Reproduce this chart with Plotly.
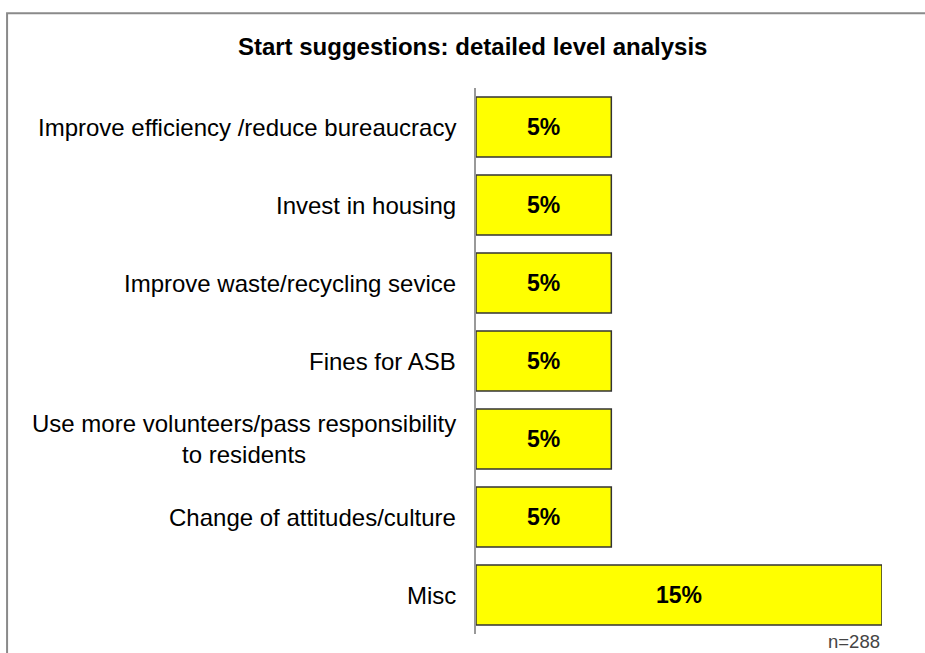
import plotly.graph_objects as go

categories = [
    "Improve efficiency /reduce bureaucracy",
    "Invest in housing",
    "Improve waste/recycling sevice",
    "Fines for ASB",
    "Use more volunteers/pass responsibility<br>to residents",
    "Change of attitudes/culture",
    "Misc",
]
values = [5, 5, 5, 5, 5, 5, 15]
value_labels = ["5%", "5%", "5%", "5%", "5%", "5%", "15%"]
title = "Start suggestions: detailed level analysis"
base_note = "n=288"

font = "Liberation Sans, Arial, sans-serif"

fig = go.Figure(go.Bar(
    x=values,
    y=categories,
    orientation="h",
    marker=dict(color="#ffff00", line=dict(color="#333333", width=1.5)),
    text=value_labels,
    textposition="inside",
    insidetextanchor="middle",
    textfont=dict(family=font, size=23, color="black", weight="bold"),
    width=0.77,
    hoverinfo="skip",
))

# category labels as centred multi-line annotations to the left of the axis
for cat in categories:
    fig.add_annotation(
        x=0, y=cat, xref="x", yref="y", text=cat, showarrow=False,
        xanchor="right", align="center", xshift=-18,
        font=dict(family=font, size=24, color="black"),
    )

fig.add_annotation(
    x=15, y=0, xref="x", yref="paper", text=base_note, showarrow=False,
    xanchor="right", yanchor="middle", yshift=-7,
    font=dict(family=font, size=18.5, color="#444444"),
)

# outer frame (runs off the right and bottom edges)
fig.add_shape(type="rect", xref="paper", yref="paper",
              x0=-1.155, x1=2, y0=-0.2, y1=1.137,
              line=dict(color="#8a8a8a", width=2), layer="below")

fig.update_layout(
    width=925, height=653,
    margin=dict(l=476, r=43, t=88, b=19),
    paper_bgcolor="white", plot_bgcolor="white",
    showlegend=False,
    title=dict(text="<b>" + title + "</b>", x=0.511, xanchor="center",
               y=0.928, yanchor="middle",
               font=dict(family=font, size=24, color="black")),
    xaxis=dict(range=[0, 15], visible=False, fixedrange=True),
    yaxis=dict(autorange="reversed", showticklabels=False, ticks="",
               showline=True, linecolor="#999999", linewidth=1.5,
               showgrid=False, zeroline=False, fixedrange=True),
    uniformtext=dict(mode="show", minsize=10),
)

# drop the default page margin so the figure fills the window exactly
fig.write_html("out.html", config={"displayModeBar": False},
               post_script="document.body.style.margin='0';document.body.style.overflow='hidden';")
